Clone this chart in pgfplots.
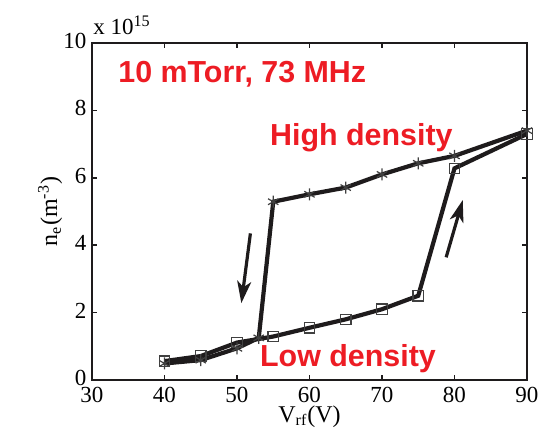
\documentclass[border=0pt]{standalone}
\usepackage{pgfplots}
\pgfplotsset{compat=1.18}
\usepackage{fontspec}
\setmainfont{Liberation Serif}
\newfontfamily\arial{Liberation Sans}
\usetikzlibrary{arrows.meta}
\definecolor{redtxt}{RGB}{237,28,36}
\definecolor{linecol}{RGB}{30,27,28}
\begin{document}
\begin{tikzpicture}
\path[use as bounding box] (-46pt,-34pt) rectangle (224.5pt,190pt);
\begin{axis}[
  at={(0,0)}, anchor=south west,
  width=217.5pt, height=168.5pt, scale only axis,
  xmin=30, xmax=90, ymin=0, ymax=10,
  xtick={30,40,50,60,70,80,90},
  ytick={0,2,4,6,8,10},
  tick align=inside, tick pos=both,
  major tick length=2.5pt,
  axis line style={line width=1pt, color=linecol},
  every tick/.style={line width=0.8pt, color=linecol},
  /pgf/number format/assume math mode=true,
  tick label style={font=\fontsize{11.5}{13}\selectfont, inner sep=1pt},
  xticklabel style={yshift=-2.2pt},
  yticklabel style={xshift=-1.6pt, yshift=1pt},
  scaled y ticks=false,
  xlabel={V\textsubscript{rf}(V)},
  ylabel={n\textsubscript{e}(m\textsuperscript{-3})},
  label style={font=\fontsize{12}{14}\selectfont},
  xlabel style={yshift=3pt},
  ylabel style={yshift=-4pt},
  clip=false,
]
% Low density branch (squares)
\addplot[line width=2.1pt, color=linecol, mark=square, mark size=2.6pt,
  mark options={solid, line width=0.6pt, draw=black!75}] coordinates {
  (40,0.56) (45,0.71) (50,1.11) (55,1.29) (60,1.55) (65,1.80)
  (70,2.10) (75,2.50) (80,6.28) (90,7.30)
};
% High density branch (asterisks)
\addplot[line width=2.1pt, color=linecol, mark=asterisk, mark size=3pt,
  mark options={solid, line width=0.6pt, draw=black!75}] coordinates {
  (40,0.49) (45,0.59) (50,0.94) (53,1.25) (55,5.29) (60,5.51)
  (65,5.71) (70,6.10) (75,6.43) (80,6.65) (90,7.40)
};
\draw[line width=1.6pt, linecol, -{Stealth[length=11pt,width=7pt,inset=3pt]}]
  (axis cs:51.85,4.35) -- (axis cs:50.6,2.28);
\draw[line width=1.6pt, linecol, -{Stealth[length=11pt,width=7pt,inset=3pt]}]
  (axis cs:78.85,3.64) -- (axis cs:81.14,5.34);
\node[anchor=base west, inner sep=0, text=redtxt, font=\arial\bfseries\fontsize{15.2}{18}\selectfont]
  at (axis cs:33.58,8.82) {10 mTorr, 73 MHz};
\node[anchor=base west, inner sep=0, text=redtxt, font=\arial\bfseries\fontsize{15.2}{18}\selectfont]
  at (axis cs:54.52,6.97) {High density};
\node[anchor=base west, inner sep=0, text=redtxt, font=\arial\bfseries\fontsize{15.2}{18}\selectfont]
  at (axis cs:53.14,0.39) {Low density};
\node[anchor=base west, inner sep=0, font=\fontsize{11.5}{13}\selectfont]
  at (rel axis cs:0,1) [yshift=4pt, xshift=0.5pt] {x 10\textsuperscript{15}};
\end{axis}
\end{tikzpicture}
\end{document}
